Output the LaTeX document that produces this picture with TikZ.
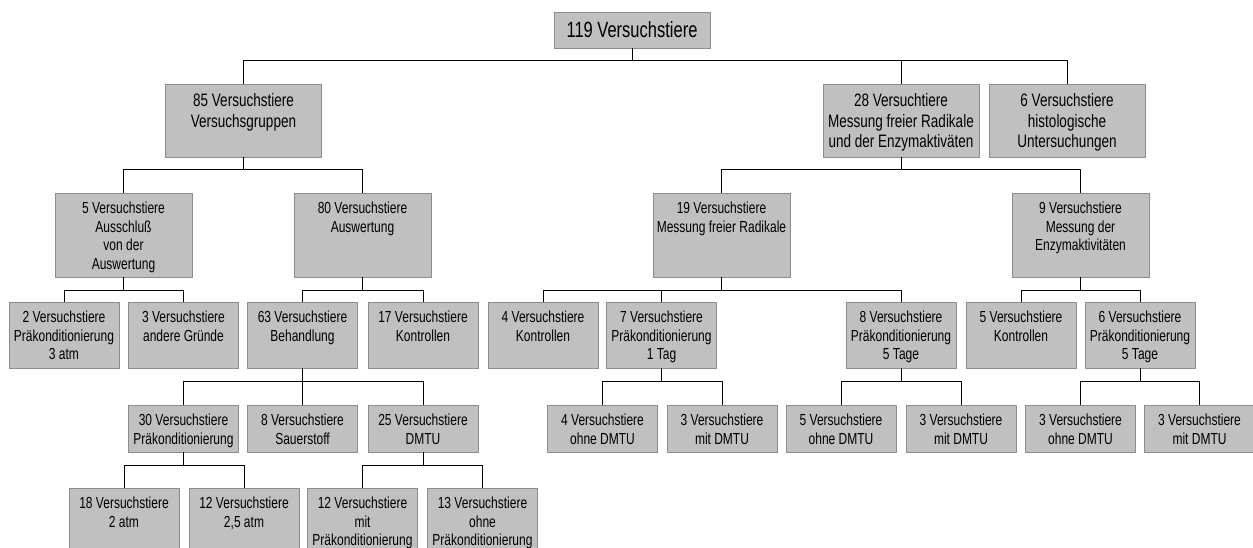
\documentclass[tikz,border=0pt]{standalone}
\usepackage{fontspec}
\setmainfont{Liberation Sans}[FakeStretch=0.75]
\definecolor{boxfill}{HTML}{C0C0C0}
\definecolor{boxline}{HTML}{8C8C8C}
\begin{document}
\begin{tikzpicture}[x=1pt, y=-1pt, line join=round, line cap=round,
 box/.style={draw=boxline, fill=boxfill, line width=0.8pt, inner sep=0pt},
 kopf/.style={box, minimum width=156pt, minimum height=36pt, font=\fontsize{22}{25}\selectfont},
 ebeneB/.style={box, minimum width=156pt, minimum height=73pt},
 ebeneC/.style={box, minimum width=137pt, minimum height=84pt},
 ebeneD/.style={box, minimum width=110pt, minimum height=66pt},
 ebeneE/.style={box, minimum width=110pt, minimum height=47pt},
 ebeneF/.style={box, minimum width=110pt, minimum height=70pt},
 txt/.style={anchor=north, yshift=-9.5pt, inner sep=0pt, align=center, font=\fontsize{16}{18.5}\selectfont},
 txtB/.style={txt, font=\fontsize{18}{20.7}\selectfont},
 link/.style={draw=black, line width=0.8pt}]
\useasboundingbox (0,0) rectangle (1253,548); % Bildrand
% Wurzel
\node[kopf] (n119) at (632,30) {119 Versuchstiere};
% Ebene 2
\node[ebeneB, label={[txtB]north:{85 Versuchstiere\\Versuchsgruppen}}] (n85) at (243.5,120.5) {};
\node[ebeneB, label={[txtB]north:{28 Versuchtiere\\Messung freier Radikale\\und der Enzymaktiväten}}] (n28) at (901,120.5) {};
\node[ebeneB, label={[txtB]north:{6 Versuchstiere\\histologische\\Untersuchungen}}] (n6h) at (1067,120.5) {};
% Ebene 3
\node[ebeneC, label={[txt]north:{5 Versuchstiere\\Ausschluß\\von der\\Auswertung}}] (n5x) at (123.5,235) {};
\node[ebeneC, label={[txt]north:{80 Versuchstiere\\Auswertung}}] (n80) at (362.5,235) {};
\node[ebeneC, label={[txt]north:{19 Versuchstiere\\Messung freier Radikale}}] (n19) at (721.5,235) {};
\node[ebeneC, label={[txt]north:{9 Versuchstiere\\Messung der\\Enzymaktivitäten}}] (n9) at (1080.5,235) {};
% Ebene 4
\node[ebeneD, label={[txt]north:{2 Versuchstiere\\Präkonditionierung\\3 atm}}] (n2p) at (64,335) {};
\node[ebeneD, label={[txt]north:{3 Versuchstiere\\andere Gründe}}] (n3a) at (183.5,335) {};
\node[ebeneD, label={[txt]north:{63 Versuchstiere\\Behandlung}}] (n63) at (302.5,335) {};
\node[ebeneD, label={[txt]north:{17 Versuchstiere\\Kontrollen}}] (n17) at (423,335) {};
\node[ebeneD, label={[txt]north:{4 Versuchstiere\\Kontrollen}}] (n4k) at (543,335) {};
\node[ebeneD, label={[txt]north:{7 Versuchstiere\\Präkonditionierung\\1 Tag}}] (n7) at (661.5,335) {};
\node[ebeneD, label={[txt]north:{8 Versuchstiere\\Präkonditionierung\\5 Tage}}] (n8p) at (901,335) {};
\node[ebeneD, label={[txt]north:{5 Versuchstiere\\Kontrollen}}] (n5k) at (1021,335) {};
\node[ebeneD, label={[txt]north:{6 Versuchstiere\\Präkonditionierung\\5 Tage}}] (n6p) at (1140,335) {};
% Ebene 5
\node[ebeneE, label={[txt]north:{30 Versuchstiere\\Präkonditionierung}}] (n30) at (183.5,428.5) {};
\node[ebeneE, label={[txt]north:{8 Versuchstiere\\Sauerstoff}}] (n8s) at (302.5,428.5) {};
\node[ebeneE, label={[txt]north:{25 Versuchstiere\\DMTU}}] (n25) at (423,428.5) {};
\node[ebeneE, label={[txt]north:{4 Versuchstiere\\ohne DMTU}}] (n4o) at (602.5,428.5) {};
\node[ebeneE, label={[txt]north:{3 Versuchstiere\\mit DMTU}}] (n3m) at (722,428.5) {};
\node[ebeneE, label={[txt]north:{5 Versuchstiere\\ohne DMTU}}] (n5o) at (841,428.5) {};
\node[ebeneE, label={[txt]north:{3 Versuchstiere\\mit DMTU}}] (n3mb) at (961,428.5) {};
\node[ebeneE, label={[txt]north:{3 Versuchstiere\\ohne DMTU}}] (n3o) at (1080.5,428.5) {};
\node[ebeneE, label={[txt]north:{3 Versuchstiere\\mit DMTU}}] (n3mc) at (1199.5,428.5) {};
% Ebene 6
\node[ebeneF, label={[txt]north:{18 Versuchstiere\\2 atm}}] (n18) at (124,523) {};
\node[ebeneF, label={[txt]north:{12 Versuchstiere\\2,5 atm}}] (n12a) at (244,523) {};
\node[ebeneF, label={[txt]north:{12 Versuchstiere\\mit\\Präkonditionierung}}] (n12m) at (362.5,523) {};
\node[ebeneF, label={[txt]north:{13 Versuchstiere\\ohne\\Präkonditionierung}}] (n13) at (482.5,523) {};
% Verbindungen
\foreach \p/\c in {n119/n85, n119/n28, n119/n6h, n85/n5x, n85/n80, n28/n19, n28/n9,
  n5x/n2p, n5x/n3a, n80/n63, n80/n17, n19/n4k, n19/n7, n19/n8p, n9/n5k, n9/n6p,
  n63/n30, n63/n8s, n63/n25, n7/n4o, n7/n3m, n8p/n5o, n8p/n3mb, n6p/n3o, n6p/n3mc,
  n30/n18, n30/n12a, n25/n12m, n25/n13}
  \draw[link] (\p.south) -- ++(0,12.5) -| (\c.north);
\end{tikzpicture}
\end{document}
